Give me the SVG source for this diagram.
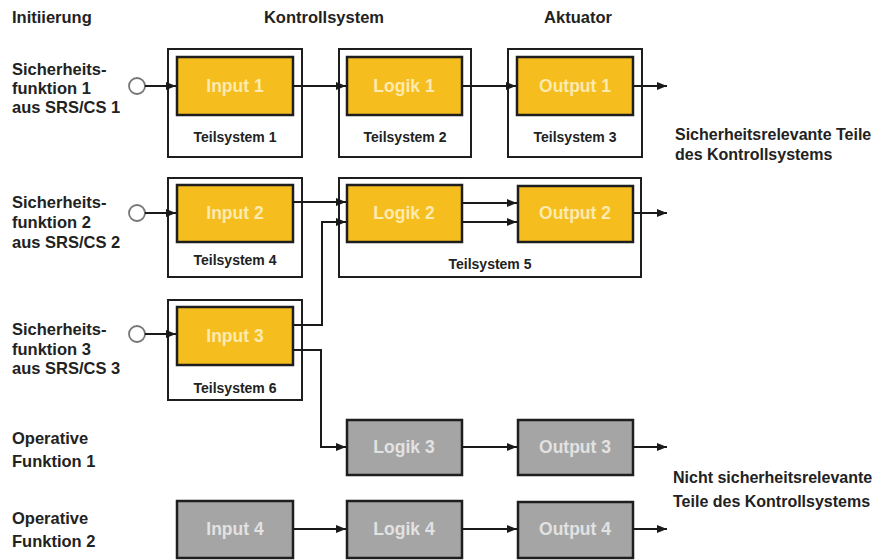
<svg xmlns="http://www.w3.org/2000/svg" width="878" height="560" viewBox="0 0 878 560">
  <defs>
    <marker id="arrow" viewBox="0 0 10 8" refX="10" refY="4" markerWidth="10" markerHeight="8" markerUnits="userSpaceOnUse" orient="auto">
      <path d="M0,0 L10,4 L0,8 Z" fill="#1a1a1a"/>
    </marker>
    <style>
      .lbl { font-family: "Liberation Sans", Arial, sans-serif; font-weight: bold; font-size: 16.5px; fill: #222; }
      .cat { font-family: "Liberation Sans", Arial, sans-serif; font-weight: bold; font-size: 16px; fill: #222; }
      .head { font-family: "Liberation Sans", Arial, sans-serif; font-weight: bold; font-size: 16.5px; fill: #222; text-anchor: middle; }
      .sub { font-family: "Liberation Sans", Arial, sans-serif; font-weight: bold; font-size: 14px; fill: #222; text-anchor: middle; }
      .frame { fill: #fff; stroke: #1e1e1e; stroke-width: 2; }
      .safe { fill: #F5BE1E; stroke: #1e1e1e; stroke-width: 2.5; }
      .op { fill: #A5A5A5; stroke: #1e1e1e; stroke-width: 2.5; }
      .safe-t { font-family: "Liberation Sans", Arial, sans-serif; font-weight: bold; font-size: 17.5px; fill: #FCEAB0; text-anchor: middle; }
      .op-t { font-family: "Liberation Sans", Arial, sans-serif; font-weight: bold; font-size: 17.5px; fill: #E2E2E2; text-anchor: middle; }
      .wire { fill: none; stroke: #1a1a1a; stroke-width: 2; }
      .src { fill: #fff; stroke: #777; stroke-width: 1.8; }
    </style>
  </defs>
  <rect width="878" height="560" fill="#fff"/>

  <!-- column headers -->
  <g id="headers">
    <text class="lbl" x="12" y="23">Initiierung</text>
    <text class="head" x="324" y="23">Kontrollsystem</text>
    <text class="head" x="578" y="23">Aktuator</text>
  </g>

  <!-- row labels -->
  <g id="row-labels">
    <text class="lbl" x="12" y="75">Sicherheits-</text>
    <text class="lbl" x="12" y="94">funktion 1</text>
    <text class="lbl" x="12" y="113">aus SRS/CS 1</text>
    <text class="lbl" x="12" y="208">Sicherheits-</text>
    <text class="lbl" x="12" y="228">funktion 2</text>
    <text class="lbl" x="12" y="248">aus SRS/CS 2</text>
    <text class="lbl" x="12" y="335">Sicherheits-</text>
    <text class="lbl" x="12" y="355">funktion 3</text>
    <text class="lbl" x="12" y="374">aus SRS/CS 3</text>
    <text class="lbl" x="12" y="444">Operative</text>
    <text class="lbl" x="12" y="467">Funktion 1</text>
    <text class="lbl" x="12" y="524">Operative</text>
    <text class="lbl" x="12" y="547">Funktion 2</text>
  </g>

  <!-- category labels -->
  <g id="category-labels">
    <text class="cat" x="675" y="140">Sicherheitsrelevante Teile</text>
    <text class="cat" x="675" y="160">des Kontrollsystems</text>
    <text class="cat" x="673" y="483">Nicht sicherheitsrelevante</text>
    <text class="cat" x="673" y="507">Teile des Kontrollsystems</text>
  </g>

  <!-- subsystem frames -->
  <g id="teilsystem-1"><rect class="frame" x="168" y="49" width="134" height="108"/><text class="sub" x="235" y="142">Teilsystem 1</text></g>
  <g id="teilsystem-2"><rect class="frame" x="339" y="49" width="132" height="108"/><text class="sub" x="405" y="142">Teilsystem 2</text></g>
  <g id="teilsystem-3"><rect class="frame" x="508" y="49" width="134" height="108"/><text class="sub" x="575" y="142">Teilsystem 3</text></g>
  <g id="teilsystem-4"><rect class="frame" x="168" y="178" width="134" height="99"/><text class="sub" x="235" y="265">Teilsystem 4</text></g>
  <g id="teilsystem-5"><rect class="frame" x="339" y="178" width="302" height="99"/><text class="sub" x="490" y="269">Teilsystem 5</text></g>
  <g id="teilsystem-6"><rect class="frame" x="168" y="300" width="134" height="100"/><text class="sub" x="235" y="393">Teilsystem 6</text></g>

  <!-- function blocks -->
  <g id="input-1"><rect class="safe" x="177" y="57" width="116" height="58"/><text class="safe-t" x="235" y="92">Input 1</text></g>
  <g id="logik-1"><rect class="safe" x="347" y="57" width="115" height="58"/><text class="safe-t" x="404" y="92">Logik 1</text></g>
  <g id="output-1"><rect class="safe" x="517" y="57" width="116" height="58"/><text class="safe-t" x="575" y="92">Output 1</text></g>

  <g id="input-2"><rect class="safe" x="177" y="185" width="116" height="57"/><text class="safe-t" x="235" y="219">Input 2</text></g>
  <g id="logik-2"><rect class="safe" x="347" y="185" width="115" height="57"/><text class="safe-t" x="404" y="219">Logik 2</text></g>
  <g id="output-2"><rect class="safe" x="518" y="186" width="115" height="56"/><text class="safe-t" x="575" y="219">Output 2</text></g>

  <g id="input-3"><rect class="safe" x="177" y="307" width="116" height="58"/><text class="safe-t" x="235" y="342">Input 3</text></g>

  <g id="logik-3"><rect class="op" x="347" y="420" width="115" height="55"/><text class="op-t" x="404" y="453">Logik 3</text></g>
  <g id="output-3"><rect class="op" x="518" y="420" width="115" height="55"/><text class="op-t" x="575" y="453">Output 3</text></g>

  <g id="input-4"><rect class="op" x="177" y="501" width="116" height="57"/><text class="op-t" x="235" y="535">Input 4</text></g>
  <g id="logik-4"><rect class="op" x="347" y="501" width="115" height="57"/><text class="op-t" x="404" y="535">Logik 4</text></g>
  <g id="output-4"><rect class="op" x="518" y="502" width="115" height="56"/><text class="op-t" x="575" y="535">Output 4</text></g>

  <!-- signal sources -->
  <g id="source-1"><circle class="src" cx="137" cy="86" r="8"/></g>
  <g id="source-2"><circle class="src" cx="137" cy="213" r="8"/></g>
  <g id="source-3"><circle class="src" cx="137" cy="334" r="8"/></g>

  <!-- connectors -->
  <g id="connectors">
    <line class="wire" x1="145" y1="86" x2="176" y2="86" marker-end="url(#arrow)"/>
    <line class="wire" x1="293" y1="86" x2="346" y2="86" marker-end="url(#arrow)"/>
    <line class="wire" x1="462" y1="86" x2="516" y2="86" marker-end="url(#arrow)"/>
    <line class="wire" x1="633" y1="86" x2="667" y2="86" marker-end="url(#arrow)"/>

    <line class="wire" x1="145" y1="213" x2="176" y2="213" marker-end="url(#arrow)"/>
    <line class="wire" x1="293" y1="202" x2="346" y2="202" marker-end="url(#arrow)"/>
    <polyline class="wire" points="293,325 322,325 322,222 346,222" marker-end="url(#arrow)"/>
    <line class="wire" x1="462" y1="203" x2="517" y2="203" marker-end="url(#arrow)"/>
    <line class="wire" x1="462" y1="222" x2="517" y2="222" marker-end="url(#arrow)"/>
    <line class="wire" x1="633" y1="213" x2="667" y2="213" marker-end="url(#arrow)"/>

    <line class="wire" x1="145" y1="334" x2="176" y2="334" marker-end="url(#arrow)"/>
    <polyline class="wire" points="293,350 321,350 321,447 346,447" marker-end="url(#arrow)"/>
    <line class="wire" x1="462" y1="447" x2="517" y2="447" marker-end="url(#arrow)"/>
    <line class="wire" x1="633" y1="447" x2="667" y2="447" marker-end="url(#arrow)"/>

    <line class="wire" x1="293" y1="529" x2="346" y2="529" marker-end="url(#arrow)"/>
    <line class="wire" x1="462" y1="529" x2="517" y2="529" marker-end="url(#arrow)"/>
    <line class="wire" x1="633" y1="529" x2="667" y2="529" marker-end="url(#arrow)"/>
  </g>
</svg>
